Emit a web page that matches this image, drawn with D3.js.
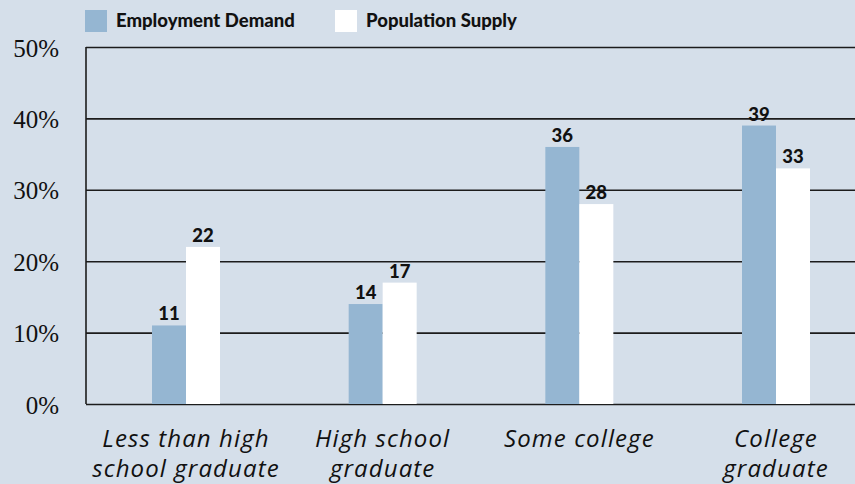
<!DOCTYPE html>
<html>
<head>
<meta charset="utf-8">
<script src="https://cdn.jsdelivr.net/npm/d3@7"></script>
<style>
  html, body { margin: 0; padding: 0; background: #d5dfea; }
  svg { display: block; }
</style>
</head>
<body>
<svg id="chart" width="855" height="484"></svg>
<script>
// Education level shares: jobs demanded vs. population supplying them (%)
const categories = ["Less than high school graduate", "High school graduate", "Some college", "College graduate"];
const categoryLines = [["Less than high", "school graduate"], ["High school", "graduate"], ["Some college"], ["College", "graduate"]];
const seriesNames = ["Employment Demand", "Population Supply"];
const demand = [11, 14, 36, 39];
const supply = [22, 17, 28, 33];
const yTicks = [0, 10, 20, 30, 40, 50];

const colors = { "Employment Demand": "#95b6d2", "Population Supply": "#ffffff" };
const W = 855, H = 484;
const plot = { left: 86, right: 855, top: 47, bottom: 404 };

const svg = d3.select("#chart");
svg.append("rect").attr("width", W).attr("height", H).attr("fill", "#d5dfea");

const y = d3.scaleLinear().domain([0, 50]).range([plot.bottom, plot.top]);
const x = d3.scalePoint().domain(categories).range([186, 776]);
const xs = d3.scaleBand().domain(seriesNames).range([-34, 34]).padding(0);

// horizontal gridlines and tick labels
const yAxis = d3.axisLeft(y).tickValues(yTicks).tickSize(-(plot.right - plot.left)).tickFormat(d => d + "%").tickPadding(27);
const gy = svg.append("g").attr("transform", `translate(${plot.left},0)`).call(yAxis);
gy.select(".domain").remove();
gy.selectAll(".tick line").attr("stroke", "#1c1c1c").attr("stroke-width", 1.6);
gy.selectAll(".tick text")
  .attr("font-family", "'Liberation Serif', 'DejaVu Serif', serif")
  .attr("font-size", 25).attr("fill", "#111").attr("dy", "0.36em");

// left axis line
svg.append("line").attr("x1", plot.left).attr("x2", plot.left)
  .attr("y1", y(50)).attr("y2", y(0)).attr("stroke", "#1c1c1c").attr("stroke-width", 1.6);

const rows = categories.map((c, i) => ({ cat: c, values: [
  { series: seriesNames[0], value: demand[i] },
  { series: seriesNames[1], value: supply[i] }
]}));

const groups = svg.append("g").selectAll("g").data(rows).join("g")
  .attr("transform", d => `translate(${x(d.cat)},0)`);

groups.selectAll("rect").data(d => d.values).join("rect")
  .attr("x", d => xs(d.series)).attr("width", xs.bandwidth())
  .attr("y", d => y(d.value)).attr("height", d => y(0) - y(d.value))
  .attr("fill", d => colors[d.series]);

groups.selectAll("text.val").data(d => d.values).join("text").attr("class", "val")
  .attr("x", d => xs(d.series) + xs.bandwidth() / 2).attr("y", d => y(d.value) - 5)
  .attr("text-anchor", "middle").attr("font-family", "Lato, 'Noto Sans', sans-serif")
  .attr("font-weight", 900).attr("font-size", 18.5).attr("fill", "#111")
  .text(d => d.value);

// category labels below the axis
const labels = svg.append("g").selectAll("text").data(categories).join("text")
  .attr("x", d => x(d)).attr("y", 447)
  .attr("text-anchor", "middle").attr("font-family", "'Open Sans', 'Noto Sans', sans-serif")
  .attr("font-style", "italic").attr("font-size", 24).attr("letter-spacing", 1.1)
  .attr("fill", "#111");
labels.selectAll("tspan").data((d, i) => categoryLines[i]).join("tspan")
  .attr("x", function() { return d3.select(this.parentNode).attr("x"); })
  .attr("dy", (d, i) => i === 0 ? 0 : 29.5)
  .text(d => d);

// legend
const legendX = [85, 335];
const legend = svg.append("g").selectAll("g").data(seriesNames).join("g")
  .attr("transform", (d, i) => `translate(${legendX[i]},10)`);
legend.append("rect").attr("width", 22).attr("height", 22).attr("fill", d => colors[d]);
legend.append("text").attr("x", 31).attr("y", 17)
  .attr("font-family", "Lato, 'Noto Sans', sans-serif").attr("font-weight", 900)
  .attr("font-size", 18.5).attr("fill", "#111").text(d => d);
</script>
</body>
</html>
